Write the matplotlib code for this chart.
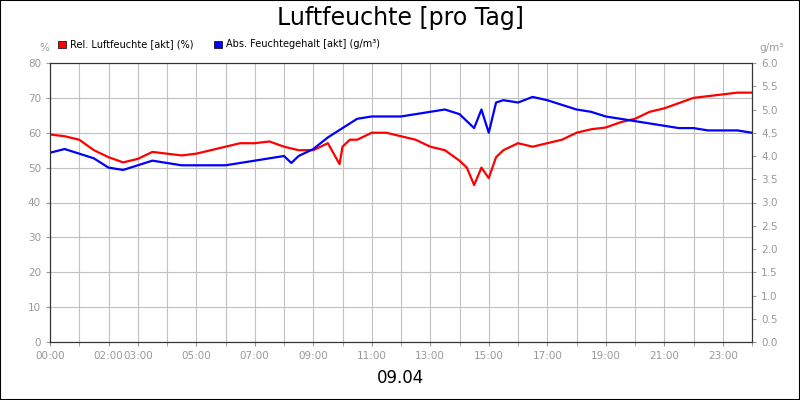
import matplotlib
matplotlib.use("Agg")
import matplotlib.pyplot as plt
from matplotlib.patches import Rectangle

rel_t = [0,0.5,1,1.5,2,2.5,3,3.5,4,4.5,5,5.5,6,6.5,7,7.5,8,8.5,9,9.5,9.9,10,10.25,10.5,11,11.5,12,12.5,13,13.5,14,14.25,14.5,14.75,15,15.25,15.5,16,16.5,17,17.5,18,18.5,19,19.5,20,20.5,21,21.5,22,22.5,23,23.5,24]
rel_v = [59.5,59,58,55,53,51.5,52.5,54.5,54,53.5,54,55,56,57,57,57.5,56,55,55,57,51,56,58,58,60,60,59,58,56,55,52,50,45,50,47,53,55,57,56,57,58,60,61,61.5,63,64,66,67,68.5,70,70.5,71,71.5,71.5]
abs_t = [0,0.5,1,1.5,2,2.5,3,3.5,4,4.5,5,5.5,6,6.5,7,7.5,8,8.25,8.5,9,9.5,10,10.5,11,11.5,12,12.5,13,13.5,14,14.25,14.5,14.75,15,15.25,15.5,16,16.5,17,17.5,18,18.5,19,19.5,20,20.5,21,21.5,22,22.5,23,23.5,24]
abs_v = [4.07,4.15,4.05,3.95,3.75,3.7,3.8,3.9,3.85,3.8,3.8,3.8,3.8,3.85,3.9,3.95,4.0,3.85,4.0,4.15,4.4,4.6,4.8,4.85,4.85,4.85,4.9,4.95,5.0,4.9,4.75,4.6,5.0,4.5,5.15,5.2,5.15,5.27,5.2,5.1,5.0,4.95,4.85,4.8,4.75,4.7,4.65,4.6,4.6,4.55,4.55,4.55,4.5]
xtick_pos = [0,2,3,5,7,9,11,13,15,17,19,21,23]
xtick_lbl = ["00:00","02:00","03:00","05:00","07:00","09:00","11:00","13:00","15:00","17:00","19:00","21:00","23:00"]

fig = plt.figure(figsize=(8,4), dpi=100)
fig.patches.append(Rectangle((0,0),1,1,transform=fig.transFigure,fill=False,edgecolor='black',lw=1.5))
ax = fig.add_axes([0.0625,0.145,0.8775,0.6975])
ax2 = ax.twinx()
ax.set_xlim(0,24); ax.set_ylim(0,80); ax2.set_ylim(0,6)
ax.set_xticks(range(25), minor=False)
ax.set_xticks(xtick_pos)
ax.set_xticklabels(xtick_lbl)
ax.set_xticks(range(25), minor=True)
ax.set_yticks(range(0,81,10)); ax2.set_yticks([i*0.5 for i in range(13)])
ax2.set_yticklabels([f"{i*0.5:.1f}" for i in range(13)])
ax.grid(True, which='both', axis='x', color='#c0c0c0', lw=0.8)
ax.grid(True, axis='y', color='#c0c0c0', lw=0.8)
for a in (ax, ax2):
    a.tick_params(labelsize=7.5, colors='#999999', length=3)
    for s in a.spines.values(): s.set_color('#333333')
ax.tick_params(which='minor', length=3, color='#999999')
ax.plot(rel_t, rel_v, color='#ff0000', lw=1.6)
ax2.plot(abs_t, abs_v, color='#0000ff', lw=1.6)
fig.text(0.5,0.955,"Luftfeuchte [pro Tag]",ha='center',va='center',fontsize=17)
fig.text(0.5,0.055,"09.04",ha='center',va='center',fontsize=12)
fig.text(0.055,0.88,"%",ha='center',va='center',fontsize=7.5,color='#999999')
fig.text(0.965,0.88,"g/m³",ha='center',va='center',fontsize=7.5,color='#999999')
fig.patches.append(Rectangle((0.073,0.88),0.009,0.018,transform=fig.transFigure,facecolor='#ff0000',edgecolor='black',lw=0.5))
fig.text(0.087,0.889,"Rel. Luftfeuchte [akt] (%)",va='center',fontsize=7)
fig.patches.append(Rectangle((0.268,0.88),0.009,0.018,transform=fig.transFigure,facecolor='#0000ff',edgecolor='black',lw=0.5))
fig.text(0.282,0.889,"Abs. Feuchtegehalt [akt] (g/m³)",va='center',fontsize=7)
fig.savefig("out.png", dpi=100)
